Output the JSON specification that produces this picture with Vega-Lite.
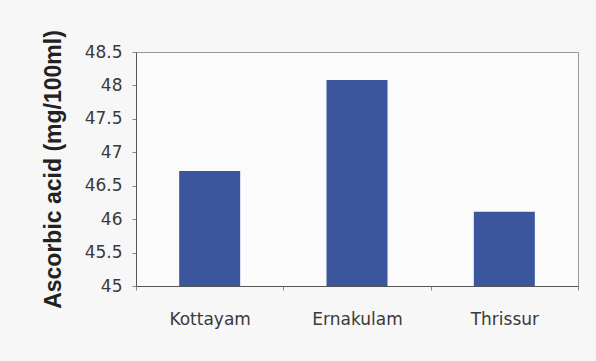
{
  "$schema": "https://vega.github.io/schema/vega-lite/v6.json",
  "autosize": "none",
  "width": 442,
  "height": 234,
  "padding": {"left": 136, "top": 52, "right": 18, "bottom": 75},
  "background": "#f7f7f7",
  "data": {
    "values": [
      {"district": "Kottayam", "ascorbic": 46.72},
      {"district": "Ernakulam", "ascorbic": 48.08},
      {"district": "Thrissur", "ascorbic": 46.11}
    ]
  },
  "mark": {"type": "bar", "size": 61, "color": "#3c569d", "clip": true},
  "encoding": {
    "x": {
      "field": "district",
      "type": "nominal",
      "sort": null,
      "scale": {"paddingInner": 0, "paddingOuter": 0},
      "axis": {
        "title": null,
        "labelAngle": 0,
        "tickBand": "extent",
        "tickSize": 4,
        "tickColor": "#888888",
        "domainColor": "#555555",
        "labelFont": "DejaVu Sans",
        "labelFontSize": 17,
        "labelColor": "#3a3a3a",
        "labelPadding": 21
      }
    },
    "y": {
      "field": "ascorbic",
      "type": "quantitative",
      "scale": {"domain": [45, 48.5], "zero": false, "nice": false},
      "axis": {
        "title": "Ascorbic acid (mg/100ml)",
        "values": [45, 45.5, 46, 46.5, 47, 47.5, 48, 48.5],
        "format": ".1~f",
        "grid": false,
        "tickSize": 4,
        "tickColor": "#888888",
        "domainColor": "#555555",
        "labelFont": "DejaVu Sans",
        "labelFontSize": 17,
        "labelColor": "#3a3a3a",
        "labelPadding": 10,
        "titleFont": "Liberation Sans",
        "titleFontSize": 23,
        "titleFontWeight": "bold",
        "titleColor": "#222222",
        "titlePadding": 19
      }
    }
  },
  "config": {
    "view": {"stroke": "#999999", "strokeWidth": 1, "fill": "#fbfbfb"}
  }
}
